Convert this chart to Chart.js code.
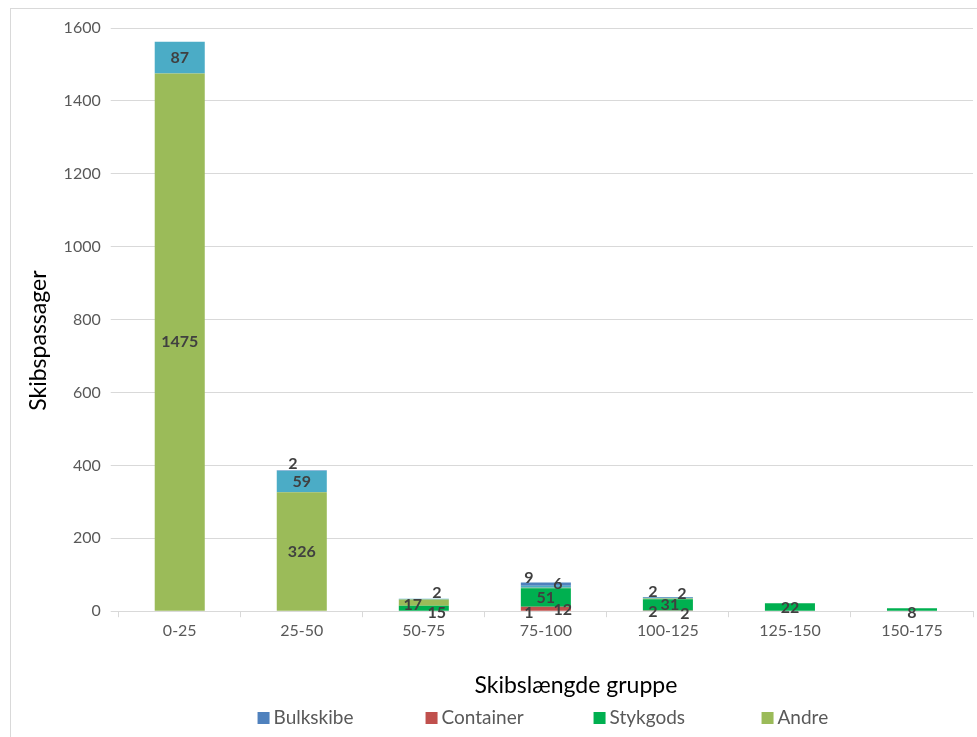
<!DOCTYPE html>
<html>
<head>
<meta charset="utf-8">
<title>Skibspassager fordelt på skibslængde</title>
<script src="https://cdn.jsdelivr.net/npm/chart.js@4.4.1/dist/chart.umd.min.js"></script>
<style>
    html, body { margin: 0; padding: 0; background: #fff; overflow: hidden; }
    #wrap { position: relative; width: 977px; height: 737px; }
    #frame { position: absolute; left: 10px; top: 8px; width: 1000px; height: 800px; border: 1px solid #d9d9d9; pointer-events: none; }
</style>
</head>
<body>
<div id="wrap">
    <canvas id="lengthChart" width="977" height="737"></canvas>
    <div id="frame"></div>
</div>
<script>
// Length groups (metres) and passages per ship type
const lengthGroups = ['0-25', '25-50', '50-75', '75-100', '100-125', '125-150', '150-175'];
const containerPassages = [0, 0, 0, 12, 2, 0, 0];
const stykgodsPassages = [0, 0, 15, 51, 31, 22, 8];
const andrePassages = [1475, 326, 17, 1, 2, 0, 0];
const oevrigePassages = [87, 59, 2, 6, 2, 0, 0];
const bulkPassages = [0, 2, 0, 9, 2, 0, 0];
const yTicks = [0, 200, 400, 600, 800, 1000, 1200, 1400, 1600];
const legendOrder = ['Bulkskibe', 'Container', 'Stykgods', 'Andre'];
const xTitle = 'Skibslængde gruppe';
const yTitle = 'Skibspassager';

const FONT = 'Lato, "Open Sans", sans-serif';

// hand-placed label nudges for the crowded small stacks, "dataset:category" -> [dx, dy]
const labelNudge = {
    '4:1': [-9, -7],
    '1:2': [13, 5], '2:2': [-11, 2], '3:2': [13, -6],
    '0:3': [17, 1], '2:3': [-17, 25], '3:3': [12, -3], '4:3': [-17, -6],
    '0:4': [-15, 1], '1:4': [2, 0], '2:4': [17, 15], '3:4': [14, -4], '4:4': [-15, -6],
    '1:5': [0, 1], '1:6': [0, 3]
};

// writes each segment's value on the bar
const segmentLabels = {
    id: 'segmentLabels',
    afterDatasetsDraw(chart) {
        const ctx = chart.ctx;
        ctx.save();
        ctx.font = 'bold 16px ' + FONT;
        ctx.fillStyle = '#404040';
        ctx.textAlign = 'center';
        ctx.textBaseline = 'middle';
        chart.data.datasets.forEach((ds, di) => {
            const meta = chart.getDatasetMeta(di);
            meta.data.forEach((bar, i) => {
                const v = ds.data[i];
                if (!v) return;
                const nudge = labelNudge[di + ':' + i] || [0, 0];
                const cy = (bar.y + bar.base) / 2;
                ctx.fillText(String(v), bar.x + nudge[0], cy + nudge[1]);
            });
        });
        ctx.restore();
    }
};

// axis titles sit a little off-centre, so they are drawn here instead of by the scales
const axisTitles = {
    id: 'axisTitles',
    afterDraw(chart) {
        const ctx = chart.ctx;
        const area = chart.chartArea;
        ctx.save();
        ctx.font = '23px ' + FONT;
        ctx.fillStyle = '#000';
        ctx.textAlign = 'center';
        ctx.textBaseline = 'middle';
        ctx.fillText(xTitle, (area.left + area.right) / 2 + 30, 686);
        ctx.translate(39, (area.top + area.bottom) / 2 + 21);
        ctx.rotate(-Math.PI / 2);
        ctx.fillText(yTitle, 0, 0);
        ctx.restore();
    }
};

// legend row with evenly spaced slots
const slotLegend = {
    id: 'slotLegend',
    afterDraw(chart) {
        const ctx = chart.ctx;
        const slot = 168, box = 12, y = 718;
        ctx.save();
        ctx.font = '19px ' + FONT;
        ctx.textBaseline = 'middle';
        const lastW = box + 4 + ctx.measureText(legendOrder[legendOrder.length - 1]).width;
        const mid = (chart.chartArea.left + chart.chartArea.right) / 2;
        let x = mid - ((legendOrder.length - 1) * slot + lastW) / 2 - 3;
        legendOrder.forEach(name => {
            const ds = chart.data.datasets.find(d => d.label === name);
            ctx.fillStyle = ds.backgroundColor;
            ctx.fillRect(x, y - box / 2, box, box);
            ctx.fillStyle = '#595959';
            ctx.fillText(name, x + box + 4, y);
            x += slot;
        });
        ctx.restore();
    }
};

const ctx = document.getElementById('lengthChart').getContext('2d');
new Chart(ctx, {
    type: 'bar',
    data: {
        labels: lengthGroups,
        datasets: [
            { label: 'Container', data: containerPassages, backgroundColor: '#c0504d' },
            { label: 'Stykgods', data: stykgodsPassages, backgroundColor: '#00b050' },
            { label: 'Andre', data: andrePassages, backgroundColor: '#9bbb59' },
            { label: 'Øvrige', data: oevrigePassages, backgroundColor: '#4bacc6' },
            { label: 'Bulkskibe', data: bulkPassages, backgroundColor: '#4f81bd' }
        ]
    },
    options: {
        responsive: false,
        animation: false,
        datasets: { bar: { barPercentage: 0.41, categoryPercentage: 1 } },
        layout: { padding: { left: 53.6, right: 4, top: 28, bottom: 92.6 } },
        plugins: {
            tooltip: { enabled: false },
            legend: { display: false }
        },
        scales: {
            x: {
                stacked: true,
                grid: { display: true, drawOnChartArea: false, offset: true, tickLength: 6, color: '#d9d9d9' },
                border: { color: '#d9d9d9' },
                ticks: { color: '#595959', font: { family: FONT, size: 16 }, padding: 4 }
            },
            y: {
                stacked: true,
                min: 0,
                max: 1600,
                afterBuildTicks: axis => { axis.ticks = yTicks.map(v => ({ value: v })); },
                grid: { color: '#d9d9d9', tickLength: 8 },
                border: { display: false },
                ticks: {
                    color: '#595959',
                    font: { family: FONT, size: 16 },
                    padding: 10,
                    callback: v => String(v)
                }
            }
        }
    },
    plugins: [segmentLabels, axisTitles, slotLegend]
});
</script>
</body>
</html>
